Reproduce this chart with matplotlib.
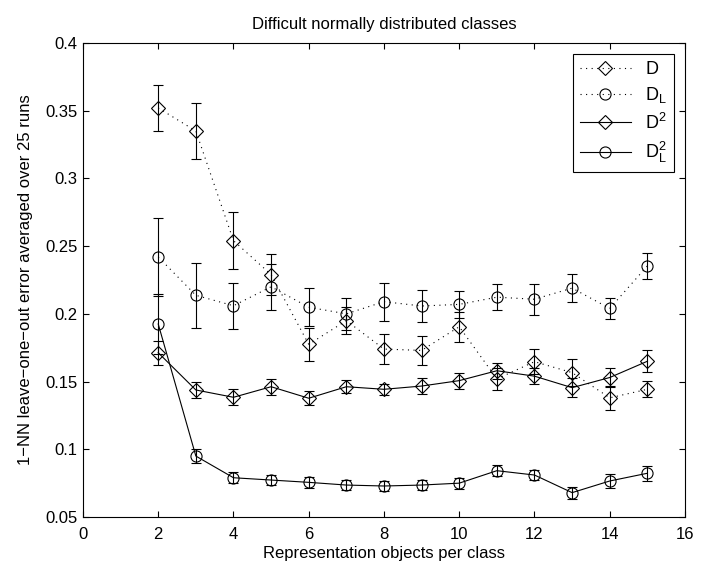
import matplotlib
matplotlib.use('Agg')
import matplotlib.pyplot as plt
import numpy as np

plt.rcParams['font.family'] = ['Liberation Sans', 'DejaVu Sans']
plt.rcParams['mathtext.fontset'] = 'custom'
plt.rcParams['mathtext.rm'] = 'Liberation Sans'
plt.rcParams['mathtext.it'] = 'Liberation Sans:italic'

# representation objects per class
n = np.arange(2, 16)

# D, dotted diamonds
d_mean = [0.352, 0.335, 0.254, 0.229, 0.1775, 0.195, 0.174, 0.173, 0.1905, 0.152, 0.1647, 0.1566, 0.138, 0.1443]
d_err = [0.017, 0.021, 0.021, 0.015, 0.012, 0.010, 0.011, 0.011, 0.011, 0.008, 0.009, 0.010, 0.009, 0.006]

# D_L, dotted circles
dl_mean = [0.242, 0.2137, 0.206, 0.220, 0.2049, 0.200, 0.209, 0.2058, 0.207, 0.2123, 0.2108, 0.219, 0.204, 0.2354]
dl_err = [0.029, 0.024, 0.017, 0.017, 0.014, 0.012, 0.014, 0.012, 0.010, 0.0095, 0.0115, 0.0105, 0.008, 0.0097]

# D^2, solid diamonds
d2_mean = [0.1713, 0.1438, 0.1384, 0.1462, 0.1377, 0.1462, 0.1443, 0.1467, 0.1507, 0.158, 0.154, 0.1455, 0.153, 0.165]
d2_err = [0.0087, 0.006, 0.006, 0.006, 0.005, 0.005, 0.004, 0.006, 0.006, 0.006, 0.006, 0.007, 0.007, 0.008]

# D_L^2, solid circles
dl2_mean = [0.1925, 0.095, 0.079, 0.0773, 0.0756, 0.0736, 0.0729, 0.0736, 0.0750, 0.0842, 0.081, 0.068, 0.0766, 0.0823]
dl2_err = [0.022, 0.005, 0.004, 0.004, 0.004, 0.004, 0.004, 0.004, 0.004, 0.004, 0.004, 0.0045, 0.0055, 0.0054]

fig = plt.figure(figsize=(7.08, 5.73), dpi=100)
ax = fig.add_axes([0.1172, 0.0977, 0.8503, 0.8273])

dots = (0, (1, 4))
series = [
    (d_mean, d_err, 'D', dots, r'$\mathrm{D}$'),
    (dl_mean, dl_err, 'o', dots, r'$\mathrm{D_L}$'),
    (d2_mean, d2_err, 'D', '-', r'$\mathrm{D^2}$'),
    (dl2_mean, dl2_err, 'o', '-', r'$\mathrm{D_L^2}$'),
]

handles = []
for mean, err, mk, ls, lab in series:
    ax.errorbar(n, mean, yerr=err, fmt='none', ecolor='black', elinewidth=0.8,
                capsize=3.3, capthick=0.8)
    ms = 6.8 if mk == 'D' else 8
    h, = ax.plot(n, mean, color='black', linestyle=ls, linewidth=0.8,
                 marker=mk, markersize=ms, markerfacecolor='none',
                 markeredgecolor='black', markeredgewidth=0.8, label=lab)
    handles.append(h)

ax.set_xlim(0, 16)
ax.set_ylim(0.05, 0.4)
ax.set_xticks(np.arange(0, 17, 2))
ax.set_yticks([0.05, 0.1, 0.15, 0.2, 0.25, 0.3, 0.35, 0.4])
ax.set_yticklabels(['0.05', '0.1', '0.15', '0.2', '0.25', '0.3', '0.35', '0.4'])
ax.tick_params(direction='in', top=True, right=True, length=4, width=0.8, labelsize=12)
ax.tick_params(axis='x', pad=7)
ax.tick_params(axis='y', pad=4)
for sp in ax.spines.values():
    sp.set_linewidth(0.8)

ax.set_title('Difficult normally distributed classes', fontsize=12, pad=10)
ax.set_xlabel('Representation objects per class', fontsize=12, labelpad=3)
ax.set_ylabel('1\u2212NN leave\u2212one\u2212out error averaged over 25 runs', fontsize=12, labelpad=9)

leg = ax.legend(handles=handles, loc='upper right', numpoints=1, fontsize=13,
                handlelength=2.8, fancybox=False, edgecolor='black',
                framealpha=1, borderaxespad=0.6, labelspacing=0.4)
leg.get_frame().set_linewidth(0.8)

fig.savefig('out.png', dpi=100)
